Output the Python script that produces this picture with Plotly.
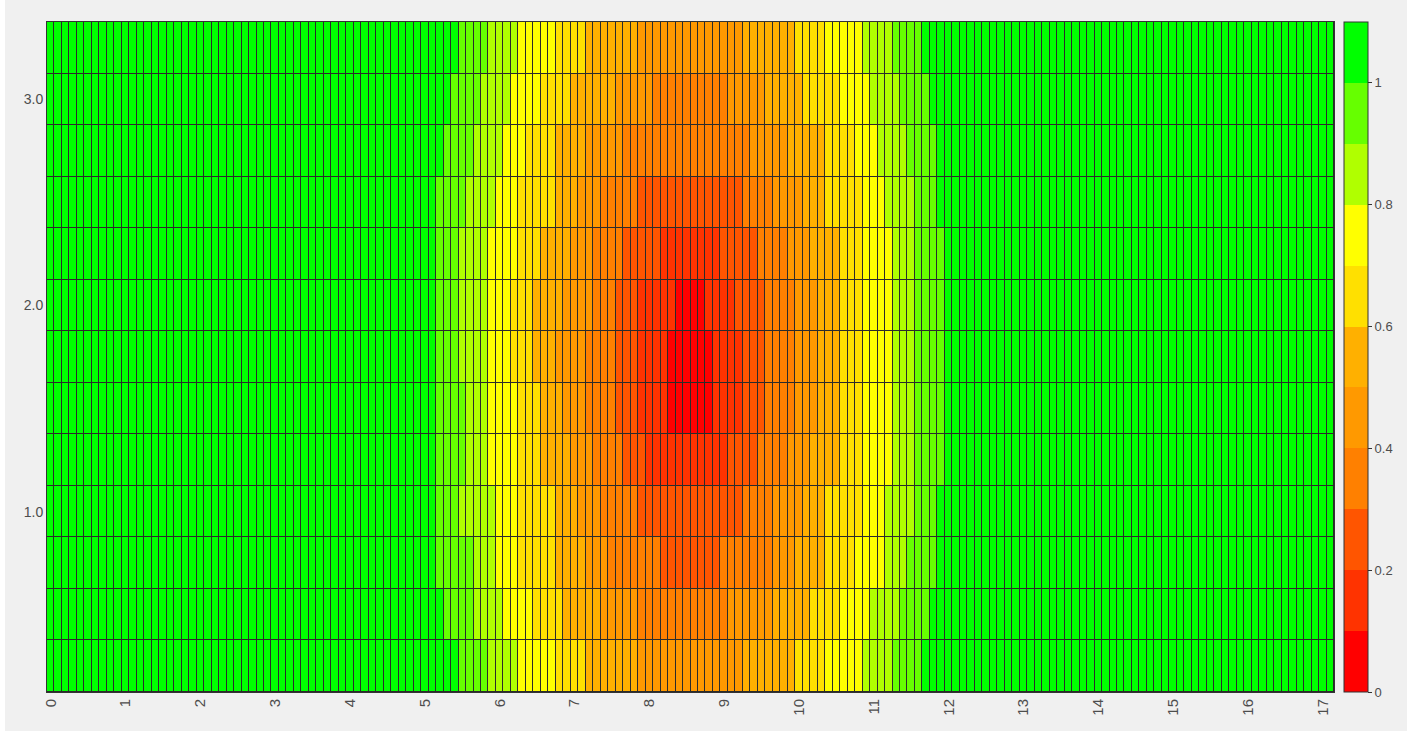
import numpy as np
import plotly.graph_objects as go

# ---- data ----
x_start, x_step, n_cols = 0.0, 0.1, 172
y_values = [3.25, 3.0, 2.75, 2.5, 2.25, 2.0, 1.75, 1.5, 1.25, 1.0, 0.75, 0.5, 0.25]

# each row (top to bottom): runs of (first column index, colour-bin index 0..10)
row_runs = [
    [(0,10),(55,9),(59,8),(63,7),(68,6),(72,5),(79,4),(93,5),(100,6),(104,7),(109,8),(113,9),(117,10)],
    [(0,10),(54,9),(58,8),(62,7),(66,6),(70,5),(76,4),(81,3),(91,4),(96,5),(101,6),(106,7),(110,8),(114,9),(118,10)],
    [(0,10),(53,9),(57,8),(61,7),(64,6),(68,5),(72,4),(77,3),(94,4),(99,5),(104,6),(108,7),(111,8),(115,9),(119,10)],
    [(0,10),(52,9),(56,8),(60,7),(63,6),(68,5),(71,4),(74,3),(79,2),(93,3),(97,4),(101,5),(104,6),(109,7),(112,8),(116,9),(119,10)],
    [(0,10),(52,9),(55,8),(59,7),(63,6),(66,5),(70,4),(73,3),(77,2),(82,1),(90,2),(95,3),(99,4),(102,5),(106,6),(109,7),(113,8),(116,9),(120,10)],
    [(0,10),(52,9),(55,8),(59,7),(62,6),(65,5),(69,4),(73,3),(76,2),(79,1),(84,0),(88,1),(92,2),(96,3),(100,4),(103,5),(106,6),(109,7),(113,8),(116,9),(120,10)],
    [(0,10),(52,9),(55,8),(59,7),(62,6),(65,5),(68,4),(72,3),(76,2),(79,1),(83,0),(89,1),(93,2),(96,3),(100,4),(103,5),(106,6),(109,7),(113,8),(116,9),(120,10)],
    [(0,10),(52,9),(56,8),(59,7),(63,6),(66,5),(69,4),(72,3),(76,2),(79,1),(83,0),(89,1),(93,2),(96,3),(100,4),(103,5),(106,6),(109,7),(113,8),(116,9),(120,10)],
    [(0,10),(52,9),(56,8),(59,7),(63,6),(66,5),(70,4),(73,3),(77,2),(80,1),(91,2),(95,3),(99,4),(102,5),(106,6),(109,7),(113,8),(116,9),(120,10)],
    [(0,10),(52,9),(55,8),(60,7),(63,6),(68,5),(71,4),(74,3),(79,2),(93,3),(97,4),(101,5),(104,6),(109,7),(112,8),(116,9),(119,10)],
    [(0,10),(52,9),(57,8),(60,7),(63,6),(68,5),(72,4),(75,3),(82,2),(90,3),(97,4),(100,5),(104,6),(108,7),(112,8),(115,9),(119,10)],
    [(0,10),(53,9),(57,8),(61,7),(65,6),(69,5),(74,4),(79,3),(91,4),(97,5),(102,6),(106,7),(110,8),(114,9),(118,10)],
    [(0,10),(55,9),(59,8),(63,7),(68,6),(72,5),(79,4),(93,5),(100,6),(104,7),(109,8),(113,9),(117,10)],
]

bin_values = [0.05, 0.15, 0.25, 0.35, 0.45, 0.55, 0.65, 0.75, 0.85, 0.95, 1.05]
bin_colors = ["#ff0000", "#ff3300", "#ff5500", "#ff8000", "#ff9900", "#ffb000",
              "#ffe000", "#ffff00", "#b0ff00", "#66ff00", "#00ff00"]
z_min, z_max = 0.0, 1.1

x_ticks = list(range(0, 18))
y_ticks = [1.0, 2.0, 3.0]
y_tick_text = ["1.0", "2.0", "3.0"]
cb_ticks = [0, 0.2, 0.4, 0.6, 0.8, 1]
cb_tick_text = ["0", "0.2", "0.4", "0.6", "0.8", "1"]

# ---- build grid ----
x_values = [round(x_start + i * x_step, 2) for i in range(n_cols)]
z = []
for runs in row_runs:
    row = [None] * n_cols
    for j, (start, b) in enumerate(runs):
        end = runs[j + 1][0] if j + 1 < len(runs) else n_cols
        for c in range(start, end):
            row[c] = bin_values[b]
    z.append(row)

nb = len(bin_colors)
colorscale = []
for i, c in enumerate(bin_colors):
    colorscale.append([i / nb, c])
    colorscale.append([(i + 1) / nb, c])

L, R, T, B = 47, 73, 22, 39
W, H = 1407, 731
pw, ph = W - L - R, H - T - B

FONT = "Liberation Sans, Arial"

fig = go.Figure(go.Heatmap(
    x=x_values, y=y_values, z=z,
    zmin=z_min, zmax=z_max, colorscale=colorscale,
    xgap=1, ygap=1,
    colorbar=dict(
        x=(1344 - L) / pw, xanchor="left", xpad=0,
        y=0, yanchor="bottom", ypad=0, len=1, lenmode="fraction",
        thickness=24, outlinecolor="#333333", outlinewidth=1,
        tickvals=cb_ticks, ticktext=cb_tick_text, ticks="outside",
        ticklen=4, tickcolor="#333333",
        tickfont=dict(family=FONT, size=13, color="#4d4d4d"),
    ),
    hoverinfo="skip",
))

fig.update_layout(
    width=W, height=H,
    margin=dict(l=L, r=R, t=T, b=B, pad=0),
    paper_bgcolor="#f0f0f0", plot_bgcolor="#2b2b2b",
    xaxis=dict(range=[-0.05, 17.15], tickvals=x_ticks, tickangle=-90,
               showgrid=False, zeroline=False, ticks="",
               showline=True, linecolor="#333333", linewidth=1, mirror=True,
               tickfont=dict(family=FONT, size=15, color="#4d4d4d")),
    yaxis=dict(range=[0.125, 3.375], tickvals=y_ticks, ticktext=y_tick_text,
               showgrid=False, zeroline=False, ticks="",
               showline=True, linecolor="#333333", linewidth=1, mirror=True,
               tickfont=dict(family=FONT, size=14, color="#4d4d4d")),
    shapes=[
        dict(type="line", xref="paper", yref="paper",
             x0=-L / pw, x1=(W - L) / pw, y0=(H - T) / ph + 3 / ph, y1=(H - T) / ph + 3 / ph,
             line=dict(color="white", width=6)),
        dict(type="line", xref="paper", yref="paper",
             x0=-L / pw, x1=(W - L) / pw, y0=-B / ph - 3 / ph, y1=-B / ph - 3 / ph,
             line=dict(color="white", width=6)),
        dict(type="line", xref="paper", yref="paper",
             x0=-L / pw + 2.5 / pw, x1=-L / pw + 2.5 / pw, y0=-B / ph, y1=(H - T) / ph,
             line=dict(color="white", width=5)),
    ],
)

fig.write_html("out.html")
